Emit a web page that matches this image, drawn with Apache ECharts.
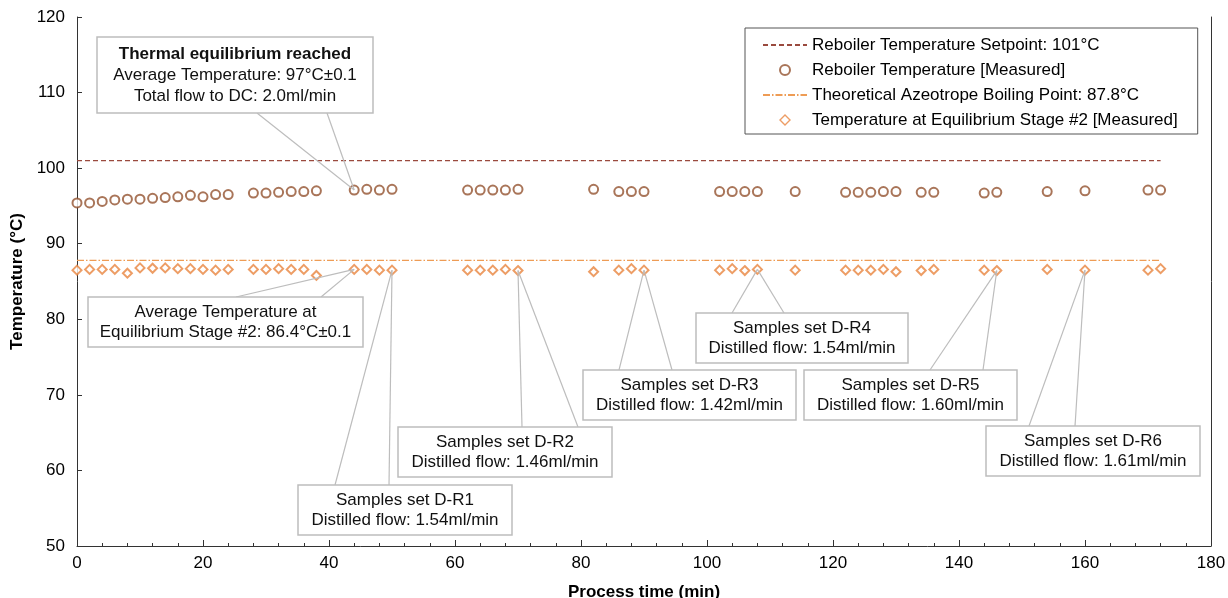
<!DOCTYPE html>
<html>
<head>
<meta charset="utf-8">
<script src="https://cdn.jsdelivr.net/npm/echarts@6/dist/echarts.min.js"></script>
<style>
html,body{margin:0;padding:0;background:#fff;}
#c{width:1228px;height:598px;}
</style>
</head>
<body>
<div id="c"></div>
<script>
// ---------------- DATA ----------------
const times = [0,2,4,6,8,10,12,14,16,18,20,22,24,
  28,30,32,34,36,38,
  44,46,48,50,
  62,64,66,68,70,
  82,
  86,88,90,
  102,104,106,108,
  114,
  122,124,126,128,130,
  134,136,
  144,146,
  154,
  160,
  170,172];

const reboilerMeasured = [95.4,95.4,95.6,95.8,95.9,95.9,96.0,96.1,96.2,96.4,96.2,96.5,96.5,
  96.7,96.7,96.8,96.9,96.9,97.0,
  97.1,97.2,97.1,97.2,
  97.1,97.1,97.1,97.1,97.2,
  97.2,
  96.9,96.9,96.9,
  96.9,96.9,96.9,96.9,
  96.9,
  96.8,96.8,96.8,96.9,96.9,
  96.8,96.8,
  96.7,96.8,
  96.9,
  97.0,
  97.1,97.1];

const stage2Measured = [86.5,86.6,86.6,86.6,86.1,86.8,86.75,86.8,86.7,86.7,86.6,86.5,86.6,
  86.6,86.6,86.7,86.6,86.6,85.8,
  86.6,86.6,86.5,86.5,
  86.5,86.5,86.5,86.6,86.45,
  86.3,
  86.5,86.7,86.5,
  86.5,86.7,86.45,86.6,
  86.5,
  86.5,86.5,86.5,86.6,86.3,
  86.45,86.6,
  86.5,86.45,
  86.6,
  86.5,
  86.5,86.7];

const setpointTemp = 101;
const azeotropeTemp = 87.8;
const refLineSpan = [0, 172];

const seriesNames = [
  'Reboiler Temperature Setpoint: 101°C',
  'Reboiler Temperature [Measured]',
  'Theoretical Azeotrope Boiling Point: 87.8°C',
  'Temperature at Equilibrium Stage #2 [Measured]'
];

const annotationTexts = [
  ['Thermal equilibrium reached', 'Average Temperature: 97°C±0.1', 'Total flow to DC: 2.0ml/min'],
  ['Average Temperature at', 'Equilibrium Stage #2: 86.4°C±0.1'],
  ['Samples set D-R1', 'Distilled flow: 1.54ml/min'],
  ['Samples set D-R2', 'Distilled flow: 1.46ml/min'],
  ['Samples set D-R3', 'Distilled flow: 1.42ml/min'],
  ['Samples set D-R4', 'Distilled flow: 1.54ml/min'],
  ['Samples set D-R5', 'Distilled flow: 1.60ml/min'],
  ['Samples set D-R6', 'Distilled flow: 1.61ml/min']
];
// which measured series (1 = reboiler, 3 = stage #2) and time the callout points to
const annotationTargets = [[1,44],[3,44],[3,50],[3,70],[3,90],[3,108],[3,146],[3,160]];

// ---------------- LAYOUT (pixels) ----------------
const calloutLayout = [
  {x:97,  y:37,  w:276, h:76, edge:'bottom', attach:[257,327], lh:21, boldFirst:true},
  {x:88,  y:297, w:275, h:50, edge:'top', attach:[236,321], lh:20},
  {x:298, y:485, w:214, h:50, edge:'top', attach:[335,389], lh:20},
  {x:398, y:427, w:214, h:50, edge:'top', attach:[522,578], lh:20},
  {x:583, y:370, w:213, h:50, edge:'top', attach:[619,672], lh:20},
  {x:696, y:313, w:212, h:50, edge:'top', attach:[732,784], lh:20},
  {x:804, y:370, w:213, h:50, edge:'top', attach:[930,983], lh:20},
  {x:986, y:426, w:214, h:50, edge:'top', attach:[1029,1075], lh:20}
];

const FONT = "'Liberation Sans', Arial, Helvetica, sans-serif";
const C_SET = '#9A4A3E';
const C_REB = '#94522F';
const C_AZE = '#EE9C55';
const C_STG = '#E8843F';
const C_AXIS = '#333';
const C_CALL = '#BDBDBD';
const HIDDEN = {color: 'rgba(0,0,0,0)', borderColor: 'rgba(0,0,0,0)', borderWidth: 0};

const chart = echarts.init(document.getElementById('c'));
const pairs = ys => times.map((t, i) => [t, ys[i]]);

chart.setOption({
  animation: false,
  textStyle: {fontFamily: FONT},
  grid: {left: 77, right: 17, top: 17, bottom: 52, containLabel: false, outerBoundsMode: 'none'},
  xAxis: {
    type: 'value', min: 0, max: 180, interval: 20,
    axisLine: {show: true, lineStyle: {color: C_AXIS, width: 1}},
    axisTick: {show: true, inside: true, length: 6, lineStyle: {color: C_AXIS}},
    minorTick: {show: true, splitNumber: 5, length: 3, lineStyle: {color: C_AXIS}},
    splitLine: {show: false},
    axisLabel: {color: '#000', fontSize: 17, margin: 9, fontFamily: FONT},
    name: 'Process time (min)', nameLocation: 'middle', nameGap: 38,
    nameTextStyle: {color: '#000', fontSize: 17, fontWeight: 'bold', fontFamily: FONT}
  },
  yAxis: [{
    type: 'value', min: 50, max: 120, interval: 10,
    axisLine: {show: true, lineStyle: {color: C_AXIS, width: 1}},
    axisTick: {show: true, inside: true, length: 5, lineStyle: {color: C_AXIS}},
    splitLine: {show: false},
    axisLabel: {color: '#000', fontSize: 17, margin: 12, fontFamily: FONT},
    name: 'Temperature (°C)', nameLocation: 'middle', nameGap: 44,
    nameTextStyle: {color: '#000', fontSize: 17, fontWeight: 'bold', fontFamily: FONT}
  }, {
    type: 'value', min: 50, max: 120, position: 'right',
    axisLine: {show: true, lineStyle: {color: C_AXIS, width: 1}},
    axisTick: {show: false}, axisLabel: {show: false}, splitLine: {show: false}
  }],
  legend: {
    orient: 'vertical', left: 745, top: 28,
    padding: [8, 20, 5, 17],
    itemWidth: 44, itemHeight: 10, itemGap: 7,
    borderColor: '#555', borderWidth: 1,
    backgroundColor: '#fff',
    textStyle: {color: '#000', fontSize: 17, lineHeight: 18, fontFamily: FONT},
    data: [
      {name: seriesNames[0], itemStyle: HIDDEN},
      {name: seriesNames[1]},
      {name: seriesNames[2], itemStyle: HIDDEN},
      {name: seriesNames[3], icon: 'path://M5 0L10 5L5 10L0 5Z',
       itemStyle: {color: '#fff', borderColor: C_STG, borderWidth: 1.4}}
    ]
  },
  series: [
    {
      name: seriesNames[0], type: 'line', symbol: 'none', silent: true,
      data: refLineSpan.map(t => [t, setpointTemp]),
      lineStyle: {color: C_SET, width: 1.2, type: [5, 3]},
      itemStyle: {color: C_SET}, z: 1
    },
    {
      name: seriesNames[1], type: 'scatter', symbol: 'emptyCircle', symbolSize: 9,
      data: pairs(reboilerMeasured),
      itemStyle: {color: C_REB, borderColor: C_REB, borderWidth: 1.3}, z: 3
    },
    {
      name: seriesNames[2], type: 'line', symbol: 'none', silent: true,
      data: refLineSpan.map(t => [t, azeotropeTemp]),
      lineStyle: {color: C_AZE, width: 1.2, type: [7, 2, 1.5, 2]},
      itemStyle: {color: C_AZE}, z: 1
    },
    {
      name: seriesNames[3], type: 'scatter', symbol: 'emptyDiamond', symbolSize: 9,
      data: pairs(stage2Measured),
      itemStyle: {color: C_STG, borderColor: C_STG, borderWidth: 1.3}, z: 3
    }
  ]
});

// ---------------- CALLOUTS ----------------
const seriesValues = {1: reboilerMeasured, 3: stage2Measured};
const graphics = [];
annotationTexts.forEach((lines, k) => {
  const L = calloutLayout[k];
  const [sIdx, t] = annotationTargets[k];
  const v = seriesValues[sIdx][times.indexOf(t)];
  const p = chart.convertToPixel({xAxisIndex: 0, yAxisIndex: 0}, [t, v]);
  const ey = L.edge === 'top' ? L.y : L.y + L.h;
  L.attach.forEach(ax => {
    graphics.push({
      type: 'line', z: 10, silent: true,
      shape: {x1: ax, y1: ey, x2: p[0], y2: p[1]},
      style: {stroke: C_CALL, lineWidth: 1.2}
    });
  });
  graphics.push({
    type: 'rect', z: 11, silent: true,
    shape: {x: L.x, y: L.y, width: L.w, height: L.h},
    style: {fill: '#fff', stroke: C_CALL, lineWidth: 1.5}
  });
  const cy = L.y + L.h / 2;
  const n = lines.length;
  lines.forEach((txt, i) => {
    graphics.push({
      type: 'text', z: 12, silent: true,
      x: L.x + L.w / 2,
      y: cy + (i - (n - 1) / 2) * L.lh,
      style: {
        text: txt, fill: '#111', fontSize: 17, fontFamily: FONT,
        fontWeight: (L.boldFirst && i === 0) ? 'bold' : 'normal',
        align: 'center', verticalAlign: 'middle'
      }
    });
  });
});
chart.setOption({graphic: graphics});
</script>
</body>
</html>
